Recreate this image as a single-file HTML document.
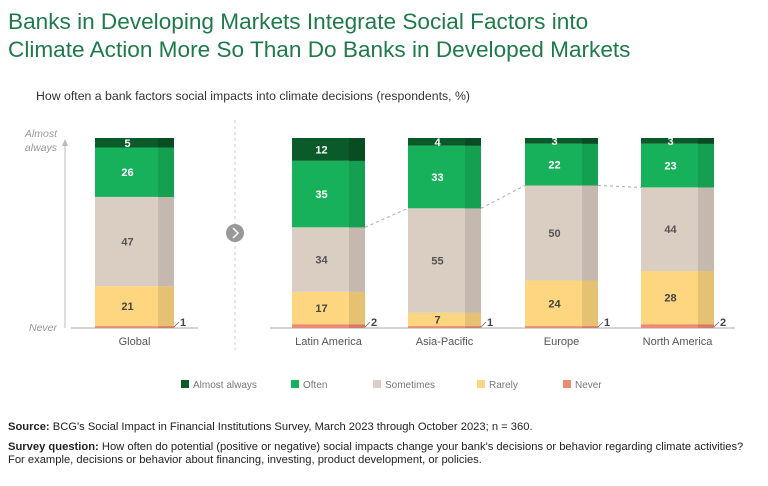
<!DOCTYPE html>
<html><head><meta charset="utf-8"><style>
body{margin:0;background:#fff;font-family:"Liberation Sans",sans-serif;}
#wrap{position:relative;width:768px;height:486px;overflow:hidden}
.title{position:absolute;left:8px;top:8px;font-size:22.6px;line-height:28px;color:#1f7a4a}
.sub{position:absolute;left:36px;top:89px;font-size:12.3px;color:#333}
.foot{position:absolute;left:8px;font-size:11.2px;color:#222;line-height:13px}
</style></head><body>
<div id="wrap">
<div class="title">Banks in Developing Markets Integrate Social Factors into<br>Climate Action More So Than Do Banks in Developed Markets</div>
<div class="sub">How often a bank factors social impacts into climate decisions (respondents, %)</div>
<svg id="svg" width="768" height="486" style="position:absolute;left:0;top:0"></svg>
<div class="foot" style="top:421px"><b>Source:</b> BCG's Social Impact in Financial Institutions Survey, March 2023 through October 2023; n = 360.</div>
<div class="foot" style="top:441px"><b>Survey question:</b> How often do potential (positive or negative) social impacts change your bank's decisions or behavior regarding climate activities?<br>For example, decisions or behavior about financing, investing, product development, or policies.</div>
</div>
<script>
const categories=["Global","Latin America","Asia-Pacific","Europe","North America"];
const seriesNames=["Never","Rarely","Sometimes","Often","Almost always"];
const never=[1,2,1,1,2];
const rarely=[21,17,7,24,28];
const sometimes=[47,34,55,50,44];
const often=[26,35,33,22,23];
const almostAlways=[5,12,4,3,3];
const colors=["#ef8a72","#fdd67f","#dacdc2","#17b15b","#0b5a2a"];
const shades=["#d97a64","#e5c273","#c5b9af","#14a050","#094b23"];
const textCol=["#333","#444","#555","#fff","#fff"];
const series=[never,rarely,sometimes,often,almostAlways];
const svg=document.getElementById('svg');
const NS="http://www.w3.org/2000/svg";
function mk(t,a,p){const e=document.createElementNS(NS,t);for(const k in a)e.setAttribute(k,a[k]);(p||svg).appendChild(e);return e;}
const base=328,top0=138;
const y=v=>base-(v/100)*(base-top0);
const barX=[95,292,408,525,641];
const barW=[79,73,73,73,73];
let e;
e=mk('line',{x1:71,y1:328,x2:198,y2:328,stroke:'#aaa','stroke-width':1});

e=mk('line',{x1:270,y1:328,x2:735,y2:328,stroke:'#aaa','stroke-width':1});

e=mk('line',{x1:65,y1:328,x2:65,y2:142,stroke:'#bbb','stroke-width':1});

e=mk('path',{d:'M62,146 L65,139 L68,146 Z',fill:'#bbb'});

e=mk('line',{x1:235,y1:120,x2:235,y2:350,stroke:'#ccc','stroke-dasharray':'3,3'});

e=mk('circle',{cx:235,cy:233,r:9,fill:'#999'});

e=mk('path',{d:'M233,228 L238,233 L233,238',fill:'none',stroke:'#fff','stroke-width':1.5});

[["Almost",27,137],["always",27,151],["Never",30,331]].forEach((t,i)=>{
 const el=mk('text',{x:57,y:t[2],'text-anchor':'end','font-size':10.5,'font-style':'italic',fill:'#999'});el.textContent=t[0];
 });
const sTops=[];
categories.forEach((c,i)=>{
 let cum=0;const x=barX[i],w=barW[i];
 series.forEach((s,k)=>{
  const v=s[i];const y1=y(cum+v),y0=y(cum);
  const r=mk('rect',{x:x,y:y1,width:w,height:y0-y1,fill:colors[k]});
  
  const sh=mk('rect',{x:x+w-16,y:y1,width:16,height:y0-y1,fill:shades[k]});
  
  if(k===0){
   const l=mk('path',{d:`M${x+w},${y0-1} L${x+w+5},${y0-6}`,stroke:'#666',fill:'none','stroke-width':0.8});
   
   const t=mk('text',{x:x+w+6,y:y0-2,'font-size':11,'font-weight':'bold',fill:'#444'});t.textContent=v;
   
  } else {
   const t=mk('text',{x:x+(w-16)/2+1,y:(y0+y1)/2+4,'text-anchor':'middle','font-size':11,'font-weight':'bold',fill:textCol[k]});t.textContent=v;
   
  }
  cum+=v;
  if(k===2)sTops[i]=y(cum);
 });
 const t=mk('text',{x:x+w/2,y:345,'text-anchor':'middle','font-size':11,fill:'#555'});t.textContent=c;
 
});
for(let i=1;i<4;i++){
 const l=mk('line',{x1:barX[i]+barW[i],y1:sTops[i],x2:barX[i+1],y2:sTops[i+1],stroke:'#aaa','stroke-dasharray':'3,3'});
 
}
const legX=[181,291,373,477,563];
const legOrder=[4,3,2,1,0];
legOrder.forEach((k,j)=>{
 const r=mk('rect',{x:legX[j],y:380,width:8,height:8,fill:colors[k]});
 
 const t=mk('text',{x:legX[j]+12,y:388,'font-size':10,fill:'#777'});t.textContent=seriesNames[k];
 
});
</script>
</body></html>
